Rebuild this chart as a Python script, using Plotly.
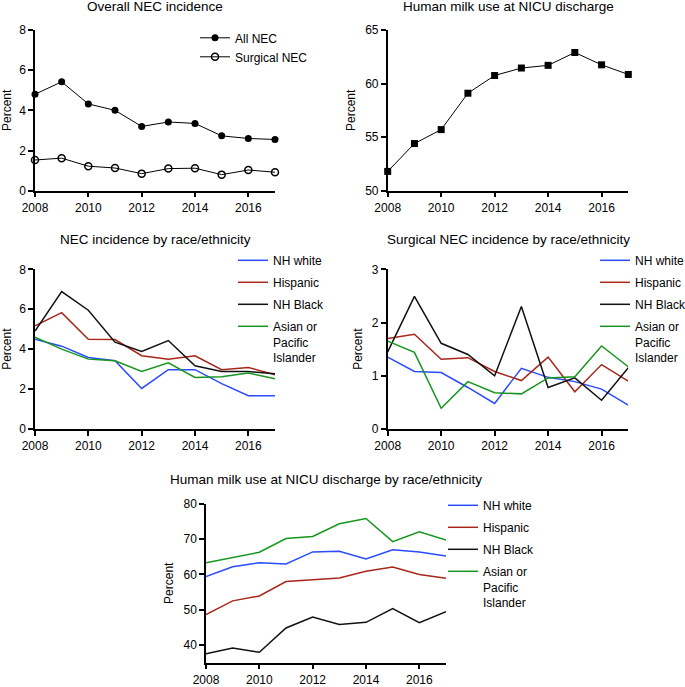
import plotly.graph_objects as go

years = list(range(2008, 2018))
xticks = [2008, 2010, 2012, 2014, 2016]

# Panel 1: Overall NEC incidence
all_nec = [4.80, 5.42, 4.32, 4.00, 3.20, 3.42, 3.35, 2.73, 2.60, 2.55]
surg_nec = [1.53, 1.62, 1.22, 1.13, 0.85, 1.10, 1.12, 0.80, 1.03, 0.92]

# Panel 2: Human milk use at NICU discharge
milk = [51.8, 54.4, 55.7, 59.1, 60.75, 61.45, 61.7, 62.9, 61.75, 60.85]

groups = ["NH white", "Hispanic", "NH Black", "Asian or<br>Pacific<br>Islander"]

# Panel 3: NEC incidence by race/ethnicity
nec_race = {
    "NH white": [4.50, 4.15, 3.58, 3.42, 2.03, 2.97, 2.97, 2.27, 1.67, 1.67],
    "Hispanic": [5.17, 5.83, 4.50, 4.48, 3.67, 3.50, 3.67, 2.97, 3.08, 2.72],
    "NH Black": [4.90, 6.88, 5.95, 4.35, 3.88, 4.43, 3.17, 2.88, 2.88, 2.77],
    "Asian": [4.60, 4.00, 3.50, 3.42, 2.88, 3.32, 2.58, 2.62, 2.80, 2.52],
}

# Panel 4: Surgical NEC incidence by race/ethnicity
surg_race = {
    "NH white": [1.35, 1.08, 1.06, 0.78, 0.48, 1.14, 0.97, 0.89, 0.75, 0.45],
    "Hispanic": [1.70, 1.78, 1.31, 1.34, 1.08, 0.91, 1.35, 0.70, 1.21, 0.90],
    "NH Black": [1.45, 2.49, 1.61, 1.40, 1.00, 2.30, 0.78, 0.96, 0.54, 1.15],
    "Asian": [1.65, 1.44, 0.39, 0.89, 0.68, 0.66, 0.96, 0.98, 1.56, 1.17],
}

# Panel 5: Human milk use at NICU discharge by race/ethnicity
milk_race = {
    "NH white": [59.4, 62.2, 63.3, 63.0, 66.4, 66.6, 64.4, 67.0, 66.4, 65.2],
    "Hispanic": [48.6, 52.5, 53.9, 58.0, 58.5, 59.0, 60.9, 62.1, 60.0, 58.9],
    "NH Black": [37.5, 39.1, 37.9, 44.8, 47.9, 45.8, 46.4, 50.3, 46.3, 49.4],
    "Asian": [63.3, 64.9, 66.3, 70.2, 70.8, 74.4, 75.9, 69.3, 72.1, 69.8],
}

keys = ["NH white", "Hispanic", "NH Black", "Asian"]
colors = {"NH white": "#2a4bff", "Hispanic": "#a8261a", "NH Black": "#111111", "Asian": "#17961f"}

W, H = 685, 687
FONT = "Liberation Sans, Arial, Helvetica, sans-serif"


def xd(a, b):
    return [a / W, b / W]


def yd(top, bottom):
    return [1 - bottom / H, 1 - top / H]


fig = go.Figure()

# Panel 1
fig.add_trace(go.Scatter(x=years, y=all_nec, mode="lines+markers", name="All NEC",
                         line=dict(color="black", width=1),
                         marker=dict(symbol="circle", size=7, color="black"),
                         xaxis="x", yaxis="y", legend="legend", cliponaxis=False))
fig.add_trace(go.Scatter(x=years, y=surg_nec, mode="lines+markers", name="Surgical NEC",
                         line=dict(color="black", width=1),
                         marker=dict(symbol="circle-open", size=7, color="black", line=dict(width=1.5)),
                         xaxis="x", yaxis="y", legend="legend", cliponaxis=False))
# Panel 2
fig.add_trace(go.Scatter(x=years, y=milk, mode="lines+markers", showlegend=False,
                         line=dict(color="black", width=1),
                         marker=dict(symbol="square", size=7, color="black"),
                         xaxis="x2", yaxis="y2", cliponaxis=False))

for data, xa, ya, lg in [(nec_race, "x3", "y3", "legend2"),
                         (surg_race, "x4", "y4", "legend3"),
                         (milk_race, "x5", "y5", "legend4")]:
    for k, label in zip(keys, groups):
        fig.add_trace(go.Scatter(x=years, y=data[k], mode="lines", name=label,
                                 line=dict(color=colors[k], width=1.5),
                                 xaxis=xa, yaxis=ya, legend=lg, legendgroup=lg + k,
                                 cliponaxis=False))

axis_common = dict(showgrid=False, zeroline=False, showline=True, linecolor="black",
                   linewidth=1.5, ticks="outside", ticklen=5, tickwidth=1.5, tickcolor="black",
                   automargin=False,
                   tickfont=dict(size=12, color="black", family=FONT))

xcommon = dict(axis_common, range=[2008, 2017], tickvals=xticks, ticktext=[str(v) for v in xticks])

panels = [
    ("", xd(35, 275), yd(30, 190.7), [0, 8], 2),
    ("2", xd(387.7, 628.3), yd(30, 190.7), [50, 65], 5),
    ("3", xd(35, 275), yd(269.3, 429), [0, 8], 2),
    ("4", xd(387.7, 628.3), yd(269.3, 429), [0, 3], 1),
    ("5", xd(206, 446), yd(504, 662.5), [35, 80], 10),
]

lay = {}
for suf, xdom, ydom, yr, dt in panels:
    lay["xaxis" + suf] = dict(xcommon, domain=xdom, anchor="y" + suf)
    tick0 = 40 if suf == "5" else yr[0]
    lay["yaxis" + suf] = dict(axis_common, domain=ydom, anchor="x" + suf, range=yr,
                              tick0=tick0, dtick=dt,
                              title=dict(text="Percent", standoff=7,
                                         font=dict(size=12, color="black", family=FONT)))

legend_common = dict(font=dict(size=12, color="black", family=FONT), bgcolor="rgba(0,0,0,0)",
                     xanchor="left", yanchor="top", tracegroupgap=3, itemwidth=30, valign="top")
lay["legend"] = dict(legend_common, x=195 / W, y=1 - 23.5 / H, tracegroupgap=0)
lay["legend2"] = dict(legend_common, x=233 / W, y=1 - 246 / H)
lay["legend3"] = dict(legend_common, x=595 / W, y=1 - 246 / H)
lay["legend4"] = dict(legend_common, x=443 / W, y=1 - 491 / H)

titles = [
    ("Overall NEC incidence", 155, 6),
    ("Human milk use at NICU discharge", 508, 6),
    ("NEC incidence by race/ethnicity", 155, 240),
    ("Surgical NEC incidence by race/ethnicity", 508, 240),
    ("Human milk use at NICU discharge by race/ethnicity", 326, 479),
]
annotations = [dict(text=t, x=cx / W, y=1 - cy / H, xref="paper", yref="paper",
                    xanchor="center", yanchor="middle", showarrow=False,
                    font=dict(size=13.5, color="black", family=FONT))
               for t, cx, cy in titles]

fig.update_layout(width=W, height=H, margin=dict(l=0, r=0, t=0, b=0, autoexpand=False),
                  paper_bgcolor="white", plot_bgcolor="white",
                  font=dict(family=FONT, color="black", size=12),
                  annotations=annotations, **lay)

fig.write_html("out.html", config={"displayModeBar": False},
               post_script="document.body.style.margin='0px';")
